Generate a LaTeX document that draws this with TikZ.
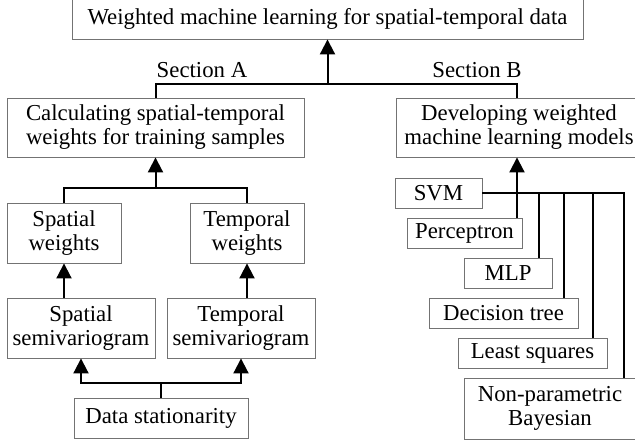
\documentclass[tikz,border=0pt]{standalone}
\usepackage{fontspec}
\setmainfont{Liberation Serif}
\usetikzlibrary{arrows.meta}

\begin{document}
\begin{tikzpicture}[x=1pt,y=-1pt]
\tikzstyle{every node}+=[inner sep=0pt,font=\fontsize{22.8}{24}\selectfont]
\tikzstyle{blk}=[draw=black!55,line width=0.9pt,align=center]
\tikzstyle{lnk}=[black,line width=2pt]
\tikzstyle{up}=[lnk,-{Triangle[length=15pt,width=15pt]}]
\useasboundingbox (0,0) rectangle (635,444);
\node [blk,minimum width=511,minimum height=40] (wml) at (327.5,19) {Weighted machine learning for spatial-temporal data};
\node (seca) at (202,70) {Section A};
\node (secb) at (477,70) {Section B};
\node [blk,minimum width=297,minimum height=59] (calc) at (155.5,127.5) {Calculating spatial-temporal\\weights for training samples};
\node [blk,minimum width=246,minimum height=59] (dev) at (519,127.5) {Developing weighted\\machine learning models};
\node [blk,minimum width=114,minimum height=60] (sw) at (64,233) {Spatial\\weights};
\node [blk,minimum width=114,minimum height=60] (tw) at (247,233) {Temporal\\weights};
\node [blk,minimum width=148,minimum height=60] (ss) at (81,328) {Spatial\\semivariogram};
\node [blk,minimum width=148,minimum height=60] (ts) at (241,328) {Temporal\\semivariogram};
\node [blk,minimum width=174,minimum height=40] (ds) at (161,418) {Data stationarity};
\node [blk,minimum width=87,minimum height=30] (svm) at (438.5,193) {SVM};
\node [blk,minimum width=115,minimum height=30] (perc) at (464.5,233) {Perceptron};
\node [blk,minimum width=88,minimum height=30] (mlp) at (508,273) {MLP};
\node [blk,minimum width=149,minimum height=30] (dt) at (503.5,313) {Decision tree};
\node [blk,minimum width=149,minimum height=30] (ls) at (532.5,353) {Least squares};
\node [blk,minimum width=172,minimum height=61] (np) at (550,408.5) {Non-parametric\\Bayesian};
\coordinate (sec) at (327.5,84);
\draw [up] (sec) -- (wml.south);
\draw [lnk] (calc.north) |- (sec) -| (517,98);
\coordinate (jw) at (155.5,188);
\draw [up] (jw) -- (calc.south);
\draw [lnk] (sw.north) |- (jw) -| (tw.north);
\draw [up] (sw.south |- ss.north) -- (sw.south);
\draw [up] (tw.south |- ts.north) -- (tw.south);
\coordinate (jd) at (161,383);
\draw [lnk] (ds.north) -- (jd);
\draw [up] (jd) -| (ss.south);
\draw [up] (jd) -| (ts.south);
\coordinate (tp) at (517,193);
\draw [up] (tp |- perc.north) -- (tp |- dev.south);
\coordinate (rc) at (624,193);
\draw [lnk] (svm.east) -- (rc) -- (rc |- np.north);
\coordinate (tm) at (538.5,193);
\draw [lnk] (tm) -- (tm |- mlp.north);
\coordinate (td) at (563.5,193);
\draw [lnk] (td) -- (td |- dt.north);
\coordinate (tl) at (593,193);
\draw [lnk] (tl) -- (tl |- ls.north);
\end{tikzpicture}
\end{document}
